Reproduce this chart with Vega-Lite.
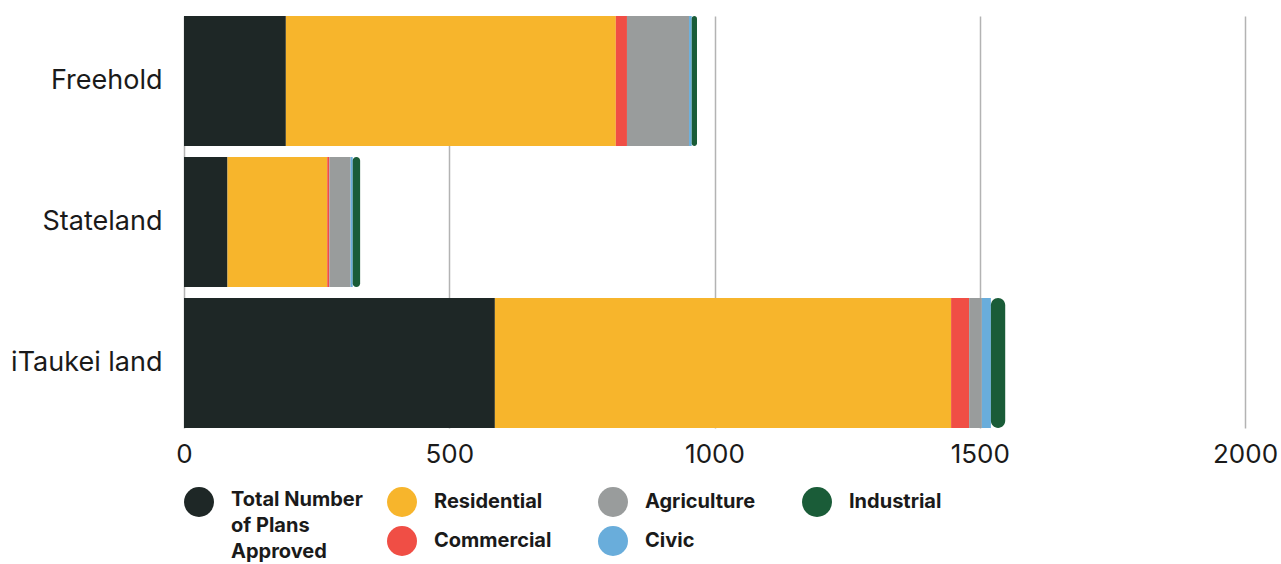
{
  "$schema": "https://vega.github.io/schema/vega-lite/v6.json",
  "width": 1061,
  "height": 412,
  "autosize": {"type": "none"},
  "padding": {"left": 184, "top": 16, "right": 36, "bottom": 136},
  "background": "white",
  "config": {
    "view": {"stroke": null},
    "font": "Inter",
    "legend": {
      "orient": "bottom",
      "direction": "horizontal",
      "title": null,
      "symbolType": "circle",
      "symbolSize": 900,
      "symbolStrokeWidth": 0,
      "labelFontSize": 20,
      "labelFontWeight": "bold",
      "labelFont": "Inter",
      "labelColor": "#1a1a1a",
      "labelOffset": 17,
      "columnPadding": 46,
      "rowPadding": 9,
      "offset": 20,
      "layout": {"bottom": {"anchor": "start", "direction": "horizontal", "margin": 24}}
    }
  },
  "data": {
    "values": [
      {"land": "Freehold", "category": "Total Number of Plans Approved", "value": 192, "ord": 1},
      {"land": "Freehold", "category": "Residential", "value": 622, "ord": 2},
      {"land": "Freehold", "category": "Commercial", "value": 21, "ord": 3},
      {"land": "Freehold", "category": "Agriculture", "value": 117, "ord": 4},
      {"land": "Freehold", "category": "Civic", "value": 5, "ord": 5},
      {"land": "Freehold", "category": "Industrial", "value": 10, "ord": 6},
      {"land": "Stateland", "category": "Total Number of Plans Approved", "value": 82, "ord": 1},
      {"land": "Stateland", "category": "Residential", "value": 188, "ord": 2},
      {"land": "Stateland", "category": "Commercial", "value": 4, "ord": 3},
      {"land": "Stateland", "category": "Agriculture", "value": 40, "ord": 4},
      {"land": "Stateland", "category": "Civic", "value": 4, "ord": 5},
      {"land": "Stateland", "category": "Industrial", "value": 14, "ord": 6},
      {"land": "iTaukei land", "category": "Total Number of Plans Approved", "value": 586, "ord": 1},
      {"land": "iTaukei land", "category": "Residential", "value": 860, "ord": 2},
      {"land": "iTaukei land", "category": "Commercial", "value": 34, "ord": 3},
      {"land": "iTaukei land", "category": "Agriculture", "value": 24, "ord": 4},
      {"land": "iTaukei land", "category": "Civic", "value": 17, "ord": 5},
      {"land": "iTaukei land", "category": "Industrial", "value": 27, "ord": 6}
    ]
  },
  "transform": [
    {"stack": "value", "groupby": ["land"], "sort": [{"field": "ord", "order": "ascending"}], "as": ["x0", "x1"]}
  ],
  "encoding": {
    "y": {
      "field": "land",
      "type": "nominal",
      "sort": ["Freehold", "Stateland", "iTaukei land"],
      "scale": {"paddingInner": 0.078, "paddingOuter": 0},
      "axis": {
        "title": null,
        "ticks": false,
        "domain": false,
        "labelFontSize": 27,
        "labelFont": "Inter",
        "labelPadding": 22,
        "labelColor": "#1a1a1a"
      }
    },
    "x": {
      "field": "x0",
      "type": "quantitative",
      "scale": {"domain": [0, 2000], "nice": false},
      "axis": {
        "title": null,
        "values": [0, 500, 1000, 1500, 2000],
        "format": "d",
        "grid": true,
        "gridColor": "#b3b3b3",
        "gridWidth": 1.5,
        "domain": false,
        "ticks": false,
        "labelFlush": false,
        "labelFontSize": 26,
        "labelFont": "Inter",
        "labelPadding": 13,
        "labelColor": "#1a1a1a"
      }
    },
    "x2": {"field": "x1"}
  },
  "layer": [
    {
      "transform": [{"filter": "datum.category == 'Total Number of Plans Approved'"}],
      "mark": {"type": "bar"},
      "encoding": {
        "color": {
          "field": "category",
          "type": "nominal",
          "scale": {"domain": ["Total Number of Plans Approved"], "range": ["#1e2726"]},
          "legend": {
            "labelExpr": "datum.label == 'Total Number of Plans Approved' ? ['Total Number', 'of Plans', 'Approved'] : datum.label",
            "labelBaseline": "top",
            "encode": {"labels": {"update": {"lineHeight": {"value": 26}, "dy": {"value": -12}}}}
          }
        }
      }
    },
    {
      "transform": [{"filter": "datum.category != 'Total Number of Plans Approved' && datum.category != 'Industrial'"}],
      "mark": {"type": "bar"},
      "encoding": {
        "color": {
          "field": "category",
          "type": "nominal",
          "scale": {
            "domain": ["Residential", "Agriculture", "Industrial", "Commercial", "Civic"],
            "range": ["#f7b52c", "#999c9c", "#1a5c38", "#f04e45", "#69addb"]
          },
          "legend": {"columns": 3}
        }
      }
    },
    {
      "transform": [{"filter": "datum.category == 'Industrial'"}],
      "mark": {"type": "bar", "color": "#1a5c38", "cornerRadiusEnd": 9}
    }
  ],
  "resolve": {"scale": {"color": "independent"}}
}
